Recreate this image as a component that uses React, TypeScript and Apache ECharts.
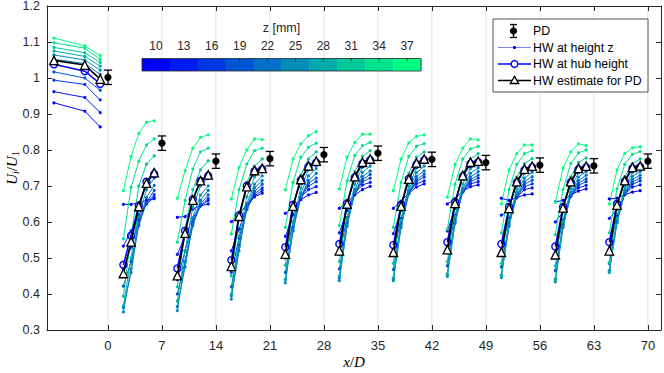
import React, { useEffect, useRef } from "react";
import * as echarts from "echarts";

// ---- data ----
const zLevels = [10, 13, 16, 19, 22, 25, 28, 31, 34, 37];
const xPositions = [
  -7, -3, -1,
  2, 3, 4, 5, 6,
  9, 10, 11, 12, 13,
  16, 17, 18, 19, 20,
  23, 24, 25, 26, 27,
  30, 31, 32, 33, 34,
  37, 38, 39, 40, 41,
  44, 45, 46, 47, 48,
  51, 52, 53, 54, 55,
  58, 59, 60, 61, 62,
  65, 66, 67, 68, 69,
];
const segmentLengths = [3, 5, 5, 5, 5, 5, 5, 5, 5, 5, 5];
const xTicks = [0, 7, 14, 21, 28, 35, 42, 49, 56, 63, 70];

const hwZ10 = [0.931, 0.908, 0.864,
  0.649, 0.649, 0.653, 0.660, 0.665, 0.613, 0.615, 0.636, 0.645, 0.650,
  0.601, 0.620, 0.650, 0.670, 0.680, 0.624, 0.640, 0.662, 0.675, 0.682,
  0.638, 0.655, 0.675, 0.690, 0.699, 0.638, 0.658, 0.680, 0.697, 0.706,
  0.650, 0.665, 0.685, 0.698, 0.703, 0.666, 0.660, 0.668, 0.675, 0.678,
  0.656, 0.660, 0.675, 0.686, 0.692, 0.664, 0.666, 0.676, 0.683, 0.687];
const hwZ13 = [0.962, 0.946, 0.904,
  0.533, 0.575, 0.620, 0.650, 0.668, 0.510, 0.560, 0.610, 0.645, 0.660,
  0.520, 0.580, 0.640, 0.672, 0.688, 0.560, 0.620, 0.668, 0.690, 0.698,
  0.570, 0.632, 0.680, 0.703, 0.710, 0.568, 0.632, 0.682, 0.706, 0.714,
  0.575, 0.638, 0.684, 0.706, 0.712, 0.619, 0.630, 0.668, 0.690, 0.695,
  0.600, 0.628, 0.672, 0.695, 0.702, 0.610, 0.636, 0.677, 0.697, 0.703];
const hwZ16 = [0.994, 0.982, 0.939,
  0.470, 0.530, 0.605, 0.652, 0.676, 0.440, 0.520, 0.598, 0.645, 0.665,
  0.460, 0.555, 0.635, 0.678, 0.695, 0.500, 0.600, 0.668, 0.700, 0.712,
  0.510, 0.612, 0.680, 0.712, 0.722, 0.508, 0.610, 0.680, 0.713, 0.725,
  0.515, 0.618, 0.684, 0.712, 0.722, 0.520, 0.610, 0.670, 0.698, 0.706,
  0.510, 0.605, 0.672, 0.702, 0.712, 0.525, 0.617, 0.678, 0.705, 0.714];
const hwZ19 = [1.017, 1.000, 0.966,
  0.422, 0.490, 0.590, 0.655, 0.688, 0.400, 0.490, 0.590, 0.650, 0.675,
  0.420, 0.535, 0.635, 0.685, 0.705, 0.460, 0.585, 0.668, 0.708, 0.722,
  0.470, 0.596, 0.680, 0.718, 0.732, 0.468, 0.594, 0.678, 0.718, 0.733,
  0.478, 0.603, 0.684, 0.718, 0.730, 0.475, 0.595, 0.672, 0.705, 0.716,
  0.465, 0.592, 0.673, 0.708, 0.720, 0.485, 0.603, 0.679, 0.711, 0.722];
const hwZ22 = [1.052, 1.040, 1.010,
  0.362, 0.460, 0.595, 0.668, 0.702, 0.365, 0.475, 0.595, 0.660, 0.688,
  0.395, 0.520, 0.640, 0.695, 0.715, 0.440, 0.575, 0.670, 0.715, 0.735,
  0.445, 0.588, 0.682, 0.726, 0.742, 0.442, 0.585, 0.680, 0.726, 0.742,
  0.455, 0.596, 0.686, 0.725, 0.740, 0.452, 0.588, 0.675, 0.712, 0.726,
  0.440, 0.585, 0.676, 0.715, 0.730, 0.465, 0.598, 0.682, 0.718, 0.730];
const hwZ25 = [1.064, 1.050, 1.022,
  0.350, 0.470, 0.615, 0.690, 0.722, 0.354, 0.490, 0.612, 0.675, 0.700,
  0.386, 0.530, 0.650, 0.705, 0.728, 0.431, 0.580, 0.680, 0.728, 0.748,
  0.437, 0.592, 0.690, 0.738, 0.755, 0.437, 0.590, 0.688, 0.737, 0.755,
  0.449, 0.600, 0.693, 0.735, 0.750, 0.446, 0.592, 0.682, 0.722, 0.738,
  0.434, 0.588, 0.682, 0.725, 0.740, 0.460, 0.600, 0.688, 0.727, 0.740];
const hwZ28 = [1.075, 1.060, 1.033,
  0.367, 0.500, 0.640, 0.712, 0.745, 0.380, 0.520, 0.640, 0.700, 0.725,
  0.400, 0.560, 0.670, 0.725, 0.748, 0.440, 0.600, 0.695, 0.745, 0.765,
  0.450, 0.610, 0.705, 0.752, 0.770, 0.445, 0.605, 0.700, 0.750, 0.768,
  0.455, 0.615, 0.705, 0.748, 0.763, 0.452, 0.605, 0.693, 0.735, 0.750,
  0.442, 0.602, 0.693, 0.737, 0.752, 0.462, 0.610, 0.697, 0.737, 0.750];
const hwZ31 = [1.085, 1.070, 1.043,
  0.394, 0.560, 0.700, 0.761, 0.784, 0.420, 0.580, 0.690, 0.745, 0.770,
  0.450, 0.610, 0.710, 0.755, 0.775, 0.480, 0.640, 0.730, 0.775, 0.795,
  0.490, 0.650, 0.740, 0.782, 0.798, 0.485, 0.645, 0.735, 0.780, 0.795,
  0.490, 0.650, 0.735, 0.775, 0.790, 0.485, 0.640, 0.725, 0.762, 0.776,
  0.478, 0.638, 0.725, 0.765, 0.778, 0.488, 0.642, 0.726, 0.762, 0.775];
const hwZ34 = [1.098, 1.083, 1.052,
  0.553, 0.696, 0.769, 0.814, 0.831, 0.544, 0.660, 0.747, 0.795, 0.805,
  0.567, 0.690, 0.761, 0.798, 0.805, 0.585, 0.710, 0.780, 0.808, 0.819,
  0.590, 0.715, 0.785, 0.812, 0.821, 0.585, 0.710, 0.782, 0.810, 0.818,
  0.580, 0.705, 0.775, 0.803, 0.810, 0.570, 0.690, 0.760, 0.790, 0.798,
  0.565, 0.690, 0.762, 0.792, 0.800, 0.570, 0.692, 0.760, 0.788, 0.796];
const hwZ37 = [1.111, 1.089, 1.062,
  0.687, 0.782, 0.846, 0.877, 0.881, 0.666, 0.743, 0.805, 0.835, 0.842,
  0.664, 0.752, 0.800, 0.831, 0.829, 0.689, 0.775, 0.817, 0.840, 0.851,
  0.692, 0.780, 0.821, 0.844, 0.844, 0.687, 0.775, 0.820, 0.838, 0.842,
  0.669, 0.760, 0.805, 0.831, 0.828, 0.650, 0.745, 0.790, 0.814, 0.814,
  0.655, 0.750, 0.795, 0.817, 0.812, 0.650, 0.745, 0.790, 0.806, 0.809];
const hwByZ = [hwZ10, hwZ13, hwZ16, hwZ19, hwZ22, hwZ25, hwZ28, hwZ31, hwZ34, hwZ37];

const hubHeight = [1.038, 1.019, 0.984,
  0.481, 0.562, 0.645, 0.712, 0.733, 0.471, 0.576, 0.663, 0.714, 0.728,
  0.494, 0.619, 0.700, 0.741, 0.747, 0.530, 0.648, 0.716, 0.754, 0.765,
  0.539, 0.652, 0.724, 0.762, 0.772, 0.536, 0.648, 0.720, 0.760, 0.772,
  0.544, 0.655, 0.727, 0.762, 0.766, 0.539, 0.642, 0.710, 0.744, 0.752,
  0.532, 0.642, 0.710, 0.746, 0.752, 0.544, 0.650, 0.713, 0.749, 0.753];
const estimatePD = [1.049, 1.036, 0.997,
  0.457, 0.545, 0.643, 0.708, 0.737, 0.451, 0.569, 0.661, 0.715, 0.731,
  0.477, 0.616, 0.698, 0.743, 0.749, 0.511, 0.644, 0.718, 0.756, 0.769,
  0.520, 0.650, 0.726, 0.766, 0.775, 0.516, 0.644, 0.719, 0.764, 0.775,
  0.523, 0.652, 0.729, 0.766, 0.769, 0.516, 0.638, 0.712, 0.747, 0.755,
  0.509, 0.639, 0.712, 0.749, 0.755, 0.520, 0.647, 0.715, 0.752, 0.756];

const pdX = [0, 7, 14, 21, 28, 35, 42, 49, 56, 63, 70];
const pdY = [1.002, 0.819, 0.769, 0.776, 0.787, 0.791, 0.774, 0.765, 0.758, 0.756, 0.769];
const pdErr = [0.02, 0.02, 0.02, 0.02, 0.02, 0.02, 0.02, 0.02, 0.02, 0.02, 0.02];

// ---- helpers ----
const winter = (i: number, n: number) => {
  const t = i / (n - 1);
  return `rgb(0,${Math.round(255 * t)},${Math.round(255 * (1 - 0.5 * t))})`;
};

function toSegments(vals: number[]) {
  const out: any[] = [];
  let k = 0;
  segmentLengths.forEach((len, s) => {
    for (let j = 0; j < len; j++) {
      out.push([xPositions[k], vals[k]]);
      k++;
    }
    if (s < segmentLengths.length - 1) out.push([xPositions[k - 1] + 0.5, null]);
  });
  return out;
}

const AX = "#262626";
const SANS = "Liberation Sans";
const SERIF = "Liberation Serif";

export default function App() {
  const ref = useRef<HTMLDivElement>(null);
  useEffect(() => {
    if (!ref.current) return;
    const chart = echarts.init(ref.current, undefined, { renderer: "svg" });

    const nameRich = {
      i: { fontFamily: SERIF, fontStyle: "italic", fontSize: 15, color: "#000", lineHeight: 16 },
      n: { fontFamily: SERIF, fontSize: 15, color: "#000", lineHeight: 16 },
      s: { fontFamily: SERIF, fontStyle: "italic", fontSize: 10, color: "#000", verticalAlign: "bottom", lineHeight: 16 },
      s1: { fontFamily: SERIF, fontSize: 10, color: "#000", verticalAlign: "bottom", lineHeight: 16 },
    };

    const xCommon = {
      type: "value",
      min: -7.9,
      max: 71.7,
      splitLine: { show: false },
      axisLine: { show: true, onZero: false, lineStyle: { color: AX, width: 1 } },
      axisTick: { show: true, inside: true, length: 5, customValues: xTicks, lineStyle: { color: AX } },
    };
    const yCommon = {
      type: "value",
      min: 0.3,
      max: 1.2,
      interval: 0.1,
      splitLine: { show: false },
      axisLine: { show: true, onZero: false, lineStyle: { color: AX, width: 1 } },
      axisTick: { show: true, inside: true, length: 5, lineStyle: { color: AX } },
    };

    const series: any[] = [];
    // vertical grid lines
    series.push({
      type: "custom",
      z: 0,
      silent: true,
      data: xTicks.map((x) => [x]),
      renderItem: (params: any, api: any) => {
        const x = api.value(0);
        const a = api.coord([x, 0.3]);
        const b = api.coord([x, 1.2]);
        return {
          type: "line",
          shape: { x1: a[0], y1: a[1], x2: b[0], y2: b[1] },
          style: { stroke: "#e3e3e3", lineWidth: 1 },
        };
      },
    });
    hwByZ.forEach((vals, i) => {
      const c = winter(i, zLevels.length);
      series.push({
        type: "line",
        name: `z=${zLevels[i]}`,
        z: 2,
        data: toSegments(vals),
        connectNulls: false,
        symbol: "circle",
        symbolSize: 3.2,
        showSymbol: true,
        lineStyle: { color: c, width: 1 },
        itemStyle: { color: c },
        silent: true,
      });
    });
    series.push({
      type: "line",
      name: "HW at hub height",
      z: 3,
      data: toSegments(hubHeight),
      connectNulls: false,
      symbol: "circle",
      symbolSize: 7,
      lineStyle: { color: "#0000ff", width: 1.5 },
      itemStyle: { color: "rgba(255,255,255,0)", borderColor: "#0000ff", borderWidth: 1.4 },
      silent: true,
    });
    series.push({
      type: "line",
      name: "HW estimate for PD",
      z: 4,
      data: toSegments(estimatePD),
      connectNulls: false,
      symbol: "triangle",
      symbolSize: 8.5,
      lineStyle: { color: "#000", width: 1.6 },
      itemStyle: { color: "#fff", borderColor: "#000", borderWidth: 1.3 },
      silent: true,
    });
    series.push({
      type: "custom",
      name: "PD",
      z: 5,
      silent: true,
      data: pdX.map((x, i) => [x, pdY[i], pdErr[i]]),
      renderItem: (params: any, api: any) => {
        const x = api.value(0);
        const y = api.value(1);
        const e = api.value(2);
        const t = api.coord([x, y + e]);
        const b = api.coord([x, y - e]);
        const c = api.coord([x, y]);
        const w = 4.2;
        const st = { stroke: "#000", lineWidth: 1.3 };
        return {
          type: "group",
          children: [
            { type: "line", shape: { x1: t[0], y1: t[1], x2: b[0], y2: b[1] }, style: st },
            { type: "line", shape: { x1: t[0] - w, y1: t[1], x2: t[0] + w, y2: t[1] }, style: st },
            { type: "line", shape: { x1: b[0] - w, y1: b[1], x2: b[0] + w, y2: b[1] }, style: st },
            { type: "circle", shape: { cx: c[0], cy: c[1], r: 3.6 }, style: { fill: "#000" } },
          ],
        };
      },
    });

    // colorbar + legend graphics
    const cbX = 142, cbY = 58.5, cbW = 279, cbH = 12.5;
    const cellW = cbW / zLevels.length;
    const g: any[] = [];
    zLevels.forEach((z, i) => {
      g.push({
        type: "rect", z: 100,
        shape: { x: cbX + i * cellW, y: cbY, width: cellW + 0.4, height: cbH },
        style: { fill: winter(i, zLevels.length) },
      });
    });
    g.push({ type: "rect", z: 101, shape: { x: cbX, y: cbY, width: cbW, height: cbH }, style: { fill: "none", stroke: AX, lineWidth: 0.8 } });
    zLevels.forEach((z, i) => {
      const cx = cbX + (i + 0.5) * cellW;
      g.push({ type: "line", z: 101, shape: { x1: cx, y1: cbY, x2: cx, y2: cbY + 3 }, style: { stroke: AX, lineWidth: 0.8 } });
      g.push({
        type: "text", z: 101, x: cx, y: 46,
        style: { text: String(z), fill: "#262626", font: `12px "${SANS}"`, align: "center", verticalAlign: "middle" },
      });
    });
    g.push({
      type: "text", z: 101, x: cbX + cbW / 2, y: 28,
      style: { text: "z [mm]", fill: "#262626", font: `12.5px "${SANS}"`, align: "center", verticalAlign: "middle" },
    });

    // legend
    const lx = 493, ly = 19, lw = 155, lh = 73;
    g.push({ type: "rect", z: 100, shape: { x: lx, y: ly, width: lw, height: lh }, style: { fill: "#fff", stroke: AX, lineWidth: 0.8 } });
    const rows = [31, 47.5, 64, 80.5];
    const labels = ["PD", "HW at height z", "HW at hub height", "HW estimate for PD"];
    const icx = 514.5, l1 = 498, l2 = 531;
    // PD icon
    g.push({ type: "line", z: 101, shape: { x1: icx - 1, y1: rows[0] - 6.5, x2: icx - 1, y2: rows[0] + 6.5 }, style: { stroke: "#000", lineWidth: 1.3 } });
    g.push({ type: "line", z: 101, shape: { x1: icx - 4.5, y1: rows[0] - 6.5, x2: icx + 2.5, y2: rows[0] - 6.5 }, style: { stroke: "#000", lineWidth: 1.3 } });
    g.push({ type: "line", z: 101, shape: { x1: icx - 4.5, y1: rows[0] + 6.5, x2: icx + 2.5, y2: rows[0] + 6.5 }, style: { stroke: "#000", lineWidth: 1.3 } });
    g.push({ type: "circle", z: 102, shape: { cx: icx - 1, cy: rows[0], r: 3.6 }, style: { fill: "#000" } });
    // HW at height z
    g.push({ type: "line", z: 101, shape: { x1: l1, y1: rows[1], x2: l2, y2: rows[1] }, style: { stroke: "#8080ff", lineWidth: 1.2 } });
    g.push({ type: "circle", z: 102, shape: { cx: icx, cy: rows[1], r: 1.6 }, style: { fill: "#0000ff" } });
    // hub
    g.push({ type: "line", z: 101, shape: { x1: l1, y1: rows[2], x2: l2, y2: rows[2] }, style: { stroke: "#0000ff", lineWidth: 1.5 } });
    g.push({ type: "circle", z: 102, shape: { cx: icx, cy: rows[2], r: 3.4 }, style: { fill: "#fff", stroke: "#0000ff", lineWidth: 1.4 } });
    // estimate
    g.push({ type: "line", z: 101, shape: { x1: l1, y1: rows[3], x2: l2, y2: rows[3] }, style: { stroke: "#000", lineWidth: 1.5 } });
    g.push({
      type: "polygon", z: 102,
      shape: { points: [[icx, rows[3] - 4.2], [icx - 4.2, rows[3] + 3], [icx + 4.2, rows[3] + 3]] },
      style: { fill: "#fff", stroke: "#000", lineWidth: 1.3 },
    });
    labels.forEach((t, i) => {
      g.push({
        type: "text", z: 102, x: 533, y: rows[i],
        style: { text: t, fill: "#000", font: `12.3px "${SANS}"`, align: "left", verticalAlign: "middle" },
      });
    });

    const option: any = {
      animation: false,
      backgroundColor: "#fff",
      grid: { left: 47, right: 3, top: 6, bottom: 43, containLabel: false, outerBoundsMode: "none" },
      xAxis: [
        {
          ...xCommon,
          position: "bottom",
          axisLabel: { customValues: xTicks, color: "#262626", fontSize: 13, fontFamily: SANS, margin: 9 },
          name: "{i|x}{n|/}{i|D}",
          nameLocation: "middle",
          nameGap: 24,
          nameMoveOverlap: false,
          nameTextStyle: { rich: nameRich },
        },
        { ...xCommon, position: "top", axisLabel: { show: false } },
      ],
      yAxis: [
        {
          ...yCommon,
          position: "left",
          axisLabel: {
            color: "#262626", fontSize: 12.5, fontFamily: SANS, margin: 7,
            formatter: (v: number) => String(Number(v.toFixed(1))),
          },
          name: "{i|U}{s|i}{n|/}{i|U}{s1|1}",
          nameLocation: "middle",
          nameGap: 27,
          nameMoveOverlap: false,
          nameTextStyle: { rich: nameRich },
        },
        { ...yCommon, position: "right", axisLabel: { show: false } },
      ],
      series,
      graphic: { elements: g },
    };
    chart.setOption(option);
    return () => chart.dispose();
  }, []);

  return (
    <div
      ref={ref}
      style={{ position: "fixed", left: 0, top: 0, width: 664, height: 373, background: "#fff" }}
    />
  );
}
